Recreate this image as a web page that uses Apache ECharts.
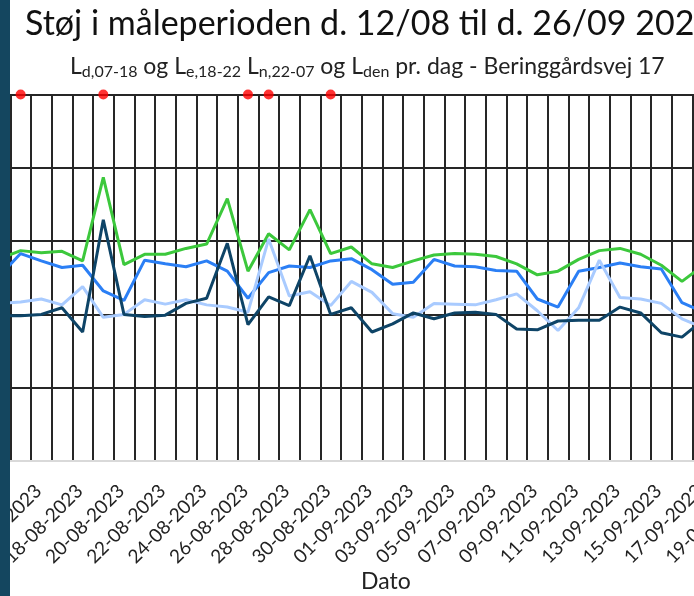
<!DOCTYPE html>
<html>
<head>
<meta charset="utf-8">
<script src="https://cdn.jsdelivr.net/npm/echarts@6/dist/echarts.min.js"></script>
<style>
  html, body { margin: 0; padding: 0; background: #fff; }
  #chart { width: 694px; height: 596px; }
</style>
</head>
<body>
<div id="chart"></div>
<script>
const datoer = [
  "12-08-2023", "13-08-2023", "14-08-2023", "15-08-2023", "16-08-2023", "17-08-2023",
  "18-08-2023", "19-08-2023", "20-08-2023", "21-08-2023", "22-08-2023", "23-08-2023",
  "24-08-2023", "25-08-2023", "26-08-2023", "27-08-2023", "28-08-2023", "29-08-2023",
  "30-08-2023", "31-08-2023", "01-09-2023", "02-09-2023", "03-09-2023", "04-09-2023",
  "05-09-2023", "06-09-2023", "07-09-2023", "08-09-2023", "09-09-2023", "10-09-2023",
  "11-09-2023", "12-09-2023", "13-09-2023", "14-09-2023", "15-09-2023", "16-09-2023",
  "17-09-2023", "18-09-2023", "19-09-2023", "20-09-2023", "21-09-2023", "22-09-2023",
  "23-09-2023", "24-09-2023", "25-09-2023", "26-09-2023"
];

// dB værdier, 12-08 .. 17-09 (resten ligger uden for billedet)
const lden = [null, null,
  57.6, 58.7, 58.4, 58.6, 57.3, 68.7, 56.8, 58.2, 58.2, 59.0, 59.6, 65.8, 55.9, 61.0,
  58.8, 64.3, 58.3, 59.2, 56.9, 56.4, 57.3, 58.1, 58.3, 58.2, 57.9, 56.9, 55.4, 55.9,
  57.5, 58.7, 59.0, 58.2, 56.7, 54.5, 56.6];
const ld = [null, null,
  55.3, 58.3, 57.3, 56.4, 56.7, 53.2, 51.9, 57.4, 56.9, 56.5, 57.3, 55.9, 52.2, 55.7,
  56.6, 56.4, 57.3, 57.6, 56.1, 54.1, 54.4, 57.5, 56.6, 56.5, 56.0, 55.9, 52.1, 51.0,
  55.9, 56.4, 57.0, 56.5, 56.2, 51.6, 50.4];
const le = [null, null,
  51.5, 51.7, 52.1, 51.3, 53.8, 49.6, 50.0, 52.0, 51.4, 52.0, 51.3, 51.0, 50.3, 60.3,
  52.5, 53.1, 51.2, 54.5, 53.0, 50.1, 49.6, 51.5, 51.4, 51.3, 52.0, 52.8, 50.5, 47.8,
  50.9, 57.4, 52.3, 52.1, 51.5, 49.4, 48.2];
const ln = [null, null,
  49.8, 49.8, 50.0, 50.9, 47.6, 62.9, 50.0, 49.7, 49.9, 51.5, 52.2, 59.7, 48.6, 52.4,
  51.2, 58.0, 50.0, 50.9, 47.6, 48.7, 50.2, 49.4, 50.2, 50.3, 50.0, 48.0, 47.9, 49.1,
  49.2, 49.2, 51.0, 50.2, 47.5, 46.9, 49.2];

const markeringer = ["15-08-2023", "19-08-2023", "26-08-2023", "27-08-2023", "30-08-2023"];
const yMin = 30;
const yMax = 80;

const chart = echarts.init(document.getElementById("chart"));
const gitter = "#262626";

const option = {
  animation: false,
  textStyle: { fontFamily: "Lato" },
  title: [
    {
      text: "Støj i måleperioden d. 12/08 til d. 26/09 2023",
      left: 25,
      top: 7,
      padding: 0,
      textStyle: { fontFamily: "Lato", fontSize: 34, fontWeight: "normal", color: "#111" }
    },
    {
      text: "{m|L}{s|d,07-18}{m| og L}{s|e,18-22}{m| L}{s|n,22-07}{m| og L}{s|den}{m| pr. dag - Beringgårdsvej 17}",
      left: 70,
      top: 54,
      padding: 0,
      textStyle: {
        fontWeight: "normal",
        rich: {
          m: { fontFamily: "Lato", fontSize: 23, fontWeight: "normal", color: "#222", lineHeight: 26, verticalAlign: "middle" },
          s: { fontFamily: "Lato", fontSize: 16, fontWeight: "normal", color: "#222", lineHeight: 13, verticalAlign: "bottom" }
        }
      }
    }
  ],
  grid: { left: -51.7, right: -205, top: 94.5, bottom: 135, outerBoundsMode: "none" },
  xAxis: {
    type: "category",
    data: datoer,
    boundaryGap: true,
    axisLine: { show: true, lineStyle: { color: "#d9d9d9", width: 2 } },
    axisTick: { show: false },
    axisLabel: {
      interval: 1,
      rotate: 45,
      margin: 24,
      padding: [0, 4, 0, 0],
      fontFamily: "Lato",
      fontSize: 19,
      color: "#222"
    },
    splitLine: { show: true, interval: 0, lineStyle: { color: gitter, width: 2 } }
  },
  yAxis: {
    type: "value",
    min: yMin,
    max: yMax,
    interval: 10,
    axisLine: { show: false },
    axisTick: { show: false },
    axisLabel: { show: false },
    splitLine: {
      show: true,
      lineStyle: { color: ["#d9d9d9", gitter, gitter, gitter, gitter, gitter], width: 2 }
    }
  },
  series: [
    { name: "Lden", type: "line", data: lden, symbol: "none", lineStyle: { color: "#3cc83c", width: 3 }, itemStyle: { color: "#3cc83c" } },
    { name: "Ld,07-18", type: "line", data: ld, symbol: "none", lineStyle: { color: "#2b7ff5", width: 3 }, itemStyle: { color: "#2b7ff5" } },
    { name: "Le,18-22", type: "line", data: le, symbol: "none", lineStyle: { color: "#a9cbff", width: 3 }, itemStyle: { color: "#a9cbff" } },
    { name: "Ln,22-07", type: "line", data: ln, symbol: "none", lineStyle: { color: "#0e4467", width: 3 }, itemStyle: { color: "#0e4467" } },
    {
      name: "Markering",
      type: "scatter",
      clip: false,
      symbolSize: 10,
      itemStyle: { color: "#ff0000" },
      data: markeringer.map((d) => [d, yMax]),
      z: 5
    }
  ],
  graphic: [
    {
      type: "rect",
      left: 0,
      top: 0,
      z: 100,
      shape: { width: 10, height: 596 },
      style: { fill: "#14465f" }
    },
    {
      type: "text",
      left: 361,
      top: 570,
      z: 100,
      style: { text: "Dato", fontFamily: "Lato", fontSize: 23, fill: "#222" }
    }
  ]
};

chart.setOption(option);
</script>
</body>
</html>
